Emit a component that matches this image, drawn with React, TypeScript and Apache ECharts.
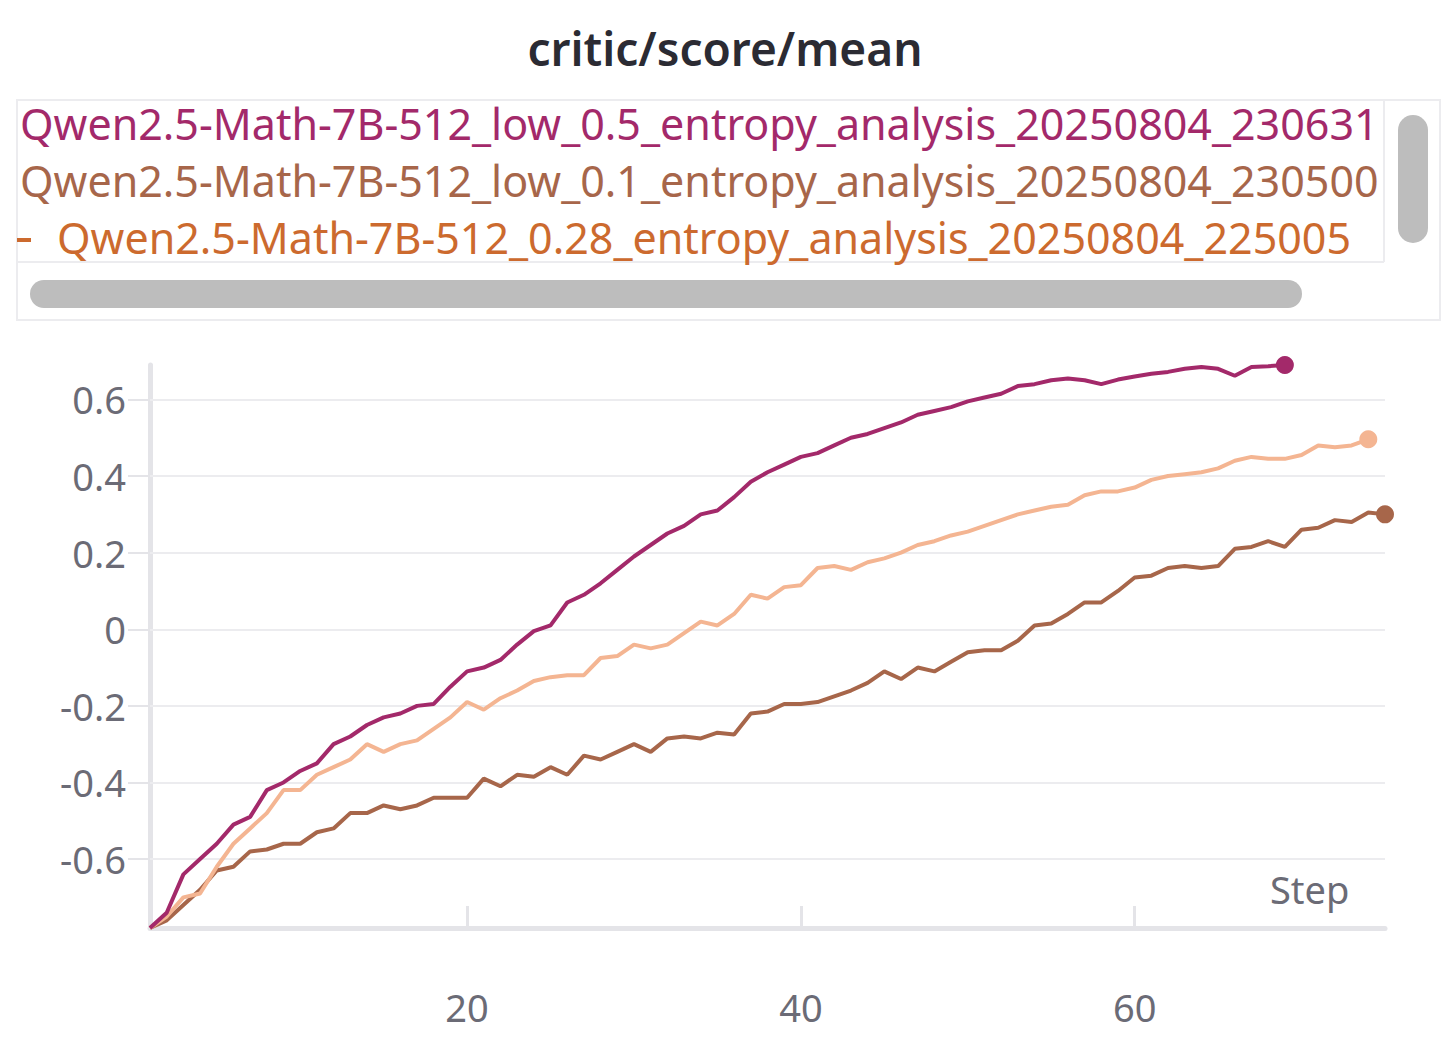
import { useEffect, useRef } from 'react';
import * as echarts from 'echarts';

const runLow05 = [-0.78, -0.74, -0.64, -0.6, -0.56, -0.51, -0.49, -0.42, -0.4, -0.37, -0.35, -0.3, -0.28, -0.25, -0.23, -0.22, -0.2, -0.195, -0.15, -0.11, -0.1, -0.08, -0.04, -0.005, 0.01, 0.07, 0.09, 0.12, 0.155, 0.19, 0.22, 0.25, 0.27, 0.3, 0.31, 0.345, 0.385, 0.41, 0.43, 0.45, 0.46, 0.48, 0.5, 0.51, 0.525, 0.54, 0.56, 0.57, 0.58, 0.595, 0.605, 0.615, 0.635, 0.64, 0.65, 0.655, 0.65, 0.64, 0.652, 0.66, 0.667, 0.672, 0.68, 0.685, 0.68, 0.662, 0.685, 0.687, 0.69];
const runLow01 = [-0.78, -0.76, -0.72, -0.68, -0.63, -0.62, -0.58, -0.575, -0.56, -0.56, -0.53, -0.52, -0.48, -0.48, -0.46, -0.47, -0.46, -0.44, -0.44, -0.44, -0.39, -0.41, -0.38, -0.385, -0.36, -0.38, -0.33, -0.34, -0.32, -0.3, -0.32, -0.285, -0.28, -0.285, -0.27, -0.275, -0.22, -0.215, -0.195, -0.195, -0.19, -0.175, -0.16, -0.14, -0.11, -0.13, -0.1, -0.11, -0.085, -0.06, -0.055, -0.055, -0.03, 0.01, 0.015, 0.04, 0.07, 0.07, 0.1, 0.135, 0.14, 0.16, 0.165, 0.16, 0.165, 0.21, 0.215, 0.23, 0.215, 0.26, 0.265, 0.285, 0.28, 0.305, 0.3];
const run028 = [-0.78, -0.75, -0.7, -0.69, -0.62, -0.56, -0.52, -0.48, -0.42, -0.42, -0.38, -0.36, -0.34, -0.3, -0.32, -0.3, -0.29, -0.26, -0.23, -0.19, -0.21, -0.18, -0.16, -0.135, -0.125, -0.12, -0.12, -0.075, -0.07, -0.04, -0.05, -0.04, -0.01, 0.02, 0.01, 0.04, 0.09, 0.08, 0.11, 0.115, 0.16, 0.165, 0.155, 0.175, 0.185, 0.2, 0.22, 0.23, 0.245, 0.255, 0.27, 0.285, 0.3, 0.31, 0.32, 0.325, 0.35, 0.36, 0.36, 0.37, 0.39, 0.4, 0.405, 0.41, 0.42, 0.44, 0.45, 0.445, 0.445, 0.455, 0.48, 0.475, 0.48, 0.496];

const names = [
  'Qwen2.5-Math-7B-512_low_0.5_entropy_analysis_20250804_230631',
  'Qwen2.5-Math-7B-512_low_0.1_entropy_analysis_20250804_230500',
  'Qwen2.5-Math-7B-512_0.28_entropy_analysis_20250804_225005',
];
const colors = ['#a3296a', '#a7664a', '#f4b592'];
const legendColors = ['#a3296a', '#a7664a', '#cc6a2e'];
const yTicks = [-0.6, -0.4, -0.2, 0, 0.2, 0.4, 0.6];
const xTicks = [20, 40, 60];

const toPoints = (arr: number[]) => arr.map((v, i) => [i + 1, v]);

export default function App() {
  const ref = useRef<HTMLDivElement>(null);

  useEffect(() => {
    document.body.style.margin = '0';
    if (!ref.current) return undefined;
    const chart = echarts.init(ref.current, null, { renderer: 'svg' });
    const font = 'Noto Sans';
    const runs = [runLow05, runLow01, run028];

    const lines = runs.map((arr, i) => ({
      type: 'line',
      name: names[i],
      data: toPoints(arr),
      showSymbol: false,
      lineStyle: { color: colors[i], width: 4 },
      z: 3 + (i === 0 ? 2 : i === 2 ? 1 : 0),
      markLine: i === 0 ? {
        silent: true,
        symbol: 'none',
        label: { show: false },
        lineStyle: { color: '#ececef', width: 2, type: 'solid' },
        data: yTicks.map((y) => ({ yAxis: y })),
        z: 1,
      } : undefined,
    }));
    const dots = runs.map((arr, i) => ({
      type: 'scatter',
      data: [[arr.length, arr[arr.length - 1]]],
      symbolSize: 18,
      itemStyle: { color: colors[i], opacity: 1 },
      z: 6,
    }));

    const option = {
      animation: false,
      grid: { left: 150, right: 65, top: 365, bottom: 132 },
      xAxis: {
        type: 'value',
        min: 1,
        max: 75,
        axisLine: { show: true, onZero: false, lineStyle: { color: '#e4e4e8', width: 5 } },
        axisTick: { show: true, customValues: xTicks, inside: true, length: 22, lineStyle: { color: '#e4e4e8', width: 3 } },
        axisLabel: { customValues: xTicks, margin: 60, fontSize: 38, color: '#6b6b76', fontFamily: font },
        splitLine: { show: false },
      },
      yAxis: {
        type: 'value',
        min: -0.78,
        max: 0.69,
        axisLine: { show: true, onZero: false, lineStyle: { color: '#e4e4e8', width: 5 } },
        axisTick: { show: true, customValues: yTicks, length: 22, lineStyle: { color: '#e4e4e8', width: 2 } },
        axisLabel: {
          customValues: yTicks,
          margin: 24,
          fontSize: 38,
          color: '#6b6b76',
          fontFamily: font,
          formatter: (v: number) => (Math.abs(v) < 1e-9 ? '0' : v.toFixed(1)),
        },
        splitLine: { show: false },
      },
      graphic: [
        { type: 'text', left: 'center', top: 25, style: { text: 'critic/score/mean', fontSize: 46, fontWeight: 600, fill: '#2b2b33', fontFamily: font } },
        { type: 'rect', shape: { x: 17, y: 100, width: 1423, height: 220 }, style: { fill: 'none', stroke: '#ececef', lineWidth: 2 } },
        { type: 'line', shape: { x1: 1384, y1: 100, x2: 1384, y2: 262 }, style: { stroke: '#ececef', lineWidth: 2 } },
        { type: 'line', shape: { x1: 17, y1: 262, x2: 1384, y2: 262 }, style: { stroke: '#ececef', lineWidth: 2 } },
        ...names.map((n, i) => ({
          type: 'text',
          x: i === 2 ? 57 : 20,
          y: 102 + i * 57,
          style: {
            text: n,
            fontSize: 43,
            fill: legendColors[i],
            fontFamily: font,
            width: i === 2 ? 1326 : 1363,
            overflow: 'truncate',
            ellipsis: '',
          },
        })),
        { type: 'rect', shape: { x: 17, y: 238, width: 14, height: 4 }, style: { fill: legendColors[2] } },
        { type: 'rect', shape: { x: 1398, y: 115, width: 30, height: 128, r: 15 }, style: { fill: '#bdbdbd' } },
        { type: 'rect', shape: { x: 30, y: 280, width: 1272, height: 28, r: 14 }, style: { fill: '#bdbdbd' } },
        { type: 'text', x: 1270, y: 870, style: { text: 'Step', fontSize: 38, fill: '#6b6b76', fontFamily: font } },
      ],
      series: [...lines, ...dots],
    } as echarts.EChartsOption;

    chart.setOption(option);
    return () => chart.dispose();
  }, []);

  return <div ref={ref} style={{ width: 1450, height: 1060 }} />;
}
